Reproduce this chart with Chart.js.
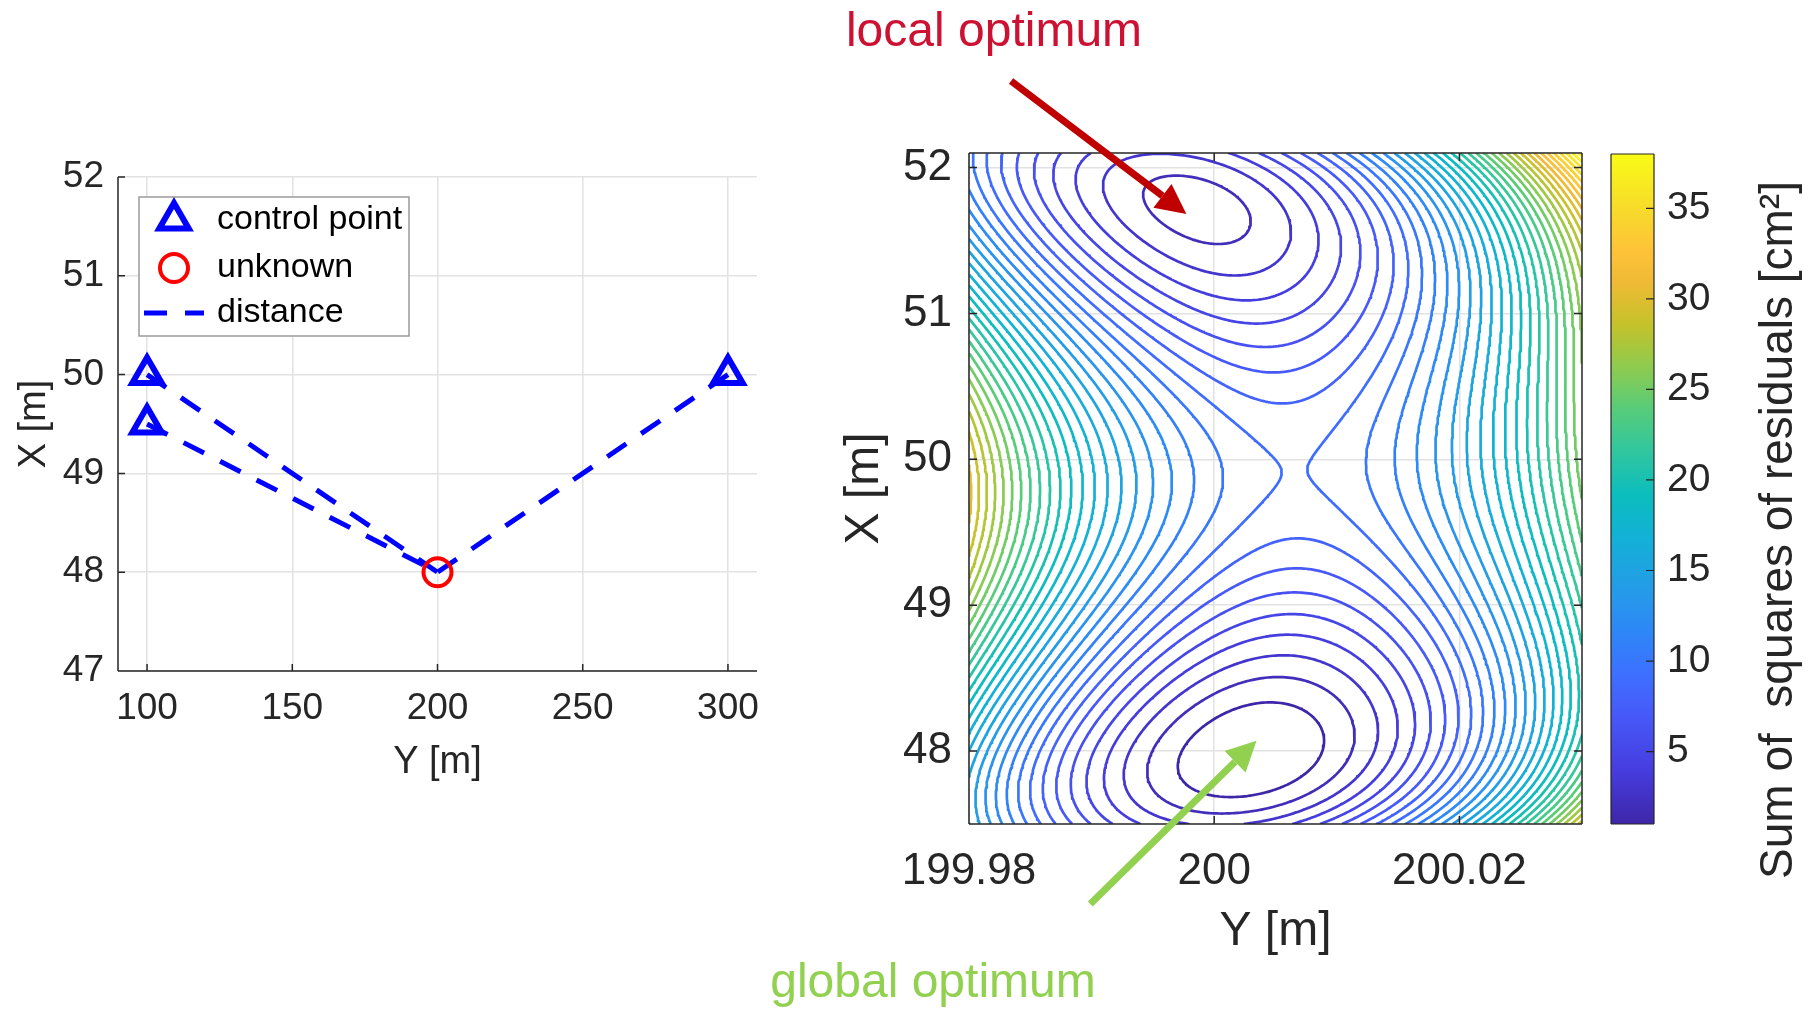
<!DOCTYPE html>
<html lang="en">
<head>
<meta charset="UTF-8" />
<title>Distance network: local and global optimum</title>
<script src="https://cdn.jsdelivr.net/npm/chart.js@4.4.1/dist/chart.umd.min.js"></script>
<style>
  html, body { margin: 0; padding: 0; background: #fff; }
  body { width: 1818px; height: 1011px; position: relative; overflow: hidden; }
  canvas { position: absolute; top: 0; }
  #layoutChart { left: 0; }
  #contourChart { left: 760px; }
  #barChart { left: 1600px; }
</style>
</head>
<body>
<canvas id="layoutChart" width="800" height="1011"></canvas>
<canvas id="contourChart" width="850" height="1011"></canvas>
<canvas id="barChart" width="218" height="1011"></canvas>

<script>
  // Y = easting (horizontal), X = northing (vertical), metres
  const controlY = [100, 100, 300];
  const controlX = [50, 49.5, 50];
  const unknownY = [200];
  const unknownX = [48];
  const observedDist = [100.022692, 100.015298, 100.017467];

  const contourLevels = [1, 2, 3, 4, 5, 6, 7, 8, 9, 10, 11, 12, 13, 14, 15, 16, 17, 18, 19,
    20, 21, 22, 23, 24, 25, 26, 27, 28, 29, 30, 31, 32, 33, 34, 35, 36, 37, 38];

  const layoutYTicks = [100, 150, 200, 250, 300];
  const layoutXTicks = [47, 48, 49, 50, 51, 52];
  const mapYTicks = [199.98, 200, 200.02];
  const mapXTicks = [48, 49, 50, 51, 52];
  const colorbarTicks = [5, 10, 15, 20, 25, 30, 35];

  const mapYRange = [199.98, 200.03];
  const mapXRange = [47.5, 52.1];
  const colorMin = 1, colorMax = 38;

  const FONT = '"Liberation Sans", Arial, Helvetica, sans-serif';
  const INK = '#262626';
  Chart.defaults.font.family = FONT;
  Chart.defaults.color = INK;

  // parula colormap
  const parulaStops = [
    [0.000, [62, 38, 168]], [0.079, [70, 60, 222]], [0.159, [71, 88, 248]],
    [0.222, [62, 111, 255]], [0.286, [46, 135, 247]], [0.349, [37, 155, 232]],
    [0.429, [18, 177, 214]], [0.492, [11, 189, 189]], [0.556, [49, 198, 159]],
    [0.619, [87, 204, 122]], [0.683, [143, 203, 78]], [0.746, [197, 194, 42]],
    [0.810, [240, 186, 54]], [0.857, [254, 195, 56]], [0.921, [247, 220, 42]],
    [1.000, [249, 251, 21]]
  ];
  function parula(t) {
    t = Math.max(0, Math.min(1, t));
    for (let i = 1; i < parulaStops.length; i++) {
      const [t1, c1] = parulaStops[i];
      if (t <= t1) {
        const [t0, c0] = parulaStops[i - 1];
        const f = (t - t0) / (t1 - t0);
        const c = c0.map((v, k) => Math.round(v + (c1[k] - v) * f));
        return `rgb(${c[0]},${c[1]},${c[2]})`;
      }
    }
    return 'rgb(249,251,21)';
  }

  // sum of squared distance residuals in cm^2
  function sumSquares(y, x) {
    let s = 0;
    for (let k = 0; k < controlY.length; k++) {
      const r = (Math.hypot(y - controlY[k], x - controlX[k]) - observedDist[k]) * 100;
      s += r * r;
    }
    return s;
  }

  const NODES = 241;
  const gridY = [], gridX = [];
  for (let i = 0; i < NODES; i++) {
    gridY.push(mapYRange[0] + (mapYRange[1] - mapYRange[0]) * i / (NODES - 1));
    gridX.push(mapXRange[0] + (mapXRange[1] - mapXRange[0]) * i / (NODES - 1));
  }
  const field = gridX.map(x => gridY.map(y => sumSquares(y, x)));

  // marching squares, segments chained into polylines
  function tracePaths(level) {
    const pos = new Map(), adj = new Map();
    const add = (k, px, py) => {
      if (!pos.has(k)) { pos.set(k, { x: px, y: py }); adj.set(k, []); }
      return k;
    };
    const link = (a, b) => { adj.get(a).push(b); adj.get(b).push(a); };
    const lerp = (a, b, za, zb) => a + (b - a) * (level - za) / (zb - za);
    for (let j = 0; j < gridX.length - 1; j++) {
      for (let i = 0; i < gridY.length - 1; i++) {
        const z0 = field[j][i], z1 = field[j][i + 1], z2 = field[j + 1][i + 1], z3 = field[j + 1][i];
        const s0 = z0 < level, s1 = z1 < level, s2 = z2 < level, s3 = z3 < level;
        const e = [];
        if (s0 !== s1) e.push(add('h' + j + '_' + i, lerp(gridY[i], gridY[i + 1], z0, z1), gridX[j]));
        if (s1 !== s2) e.push(add('v' + j + '_' + (i + 1), gridY[i + 1], lerp(gridX[j], gridX[j + 1], z1, z2)));
        if (s3 !== s2) e.push(add('h' + (j + 1) + '_' + i, lerp(gridY[i], gridY[i + 1], z3, z2), gridX[j + 1]));
        if (s0 !== s3) e.push(add('v' + j + '_' + i, gridY[i], lerp(gridX[j], gridX[j + 1], z0, z3)));
        if (e.length === 2) link(e[0], e[1]);
        else if (e.length === 4) {
          const centre = (z0 + z1 + z2 + z3) / 4 < level;
          if (centre === s0) { link(e[0], e[1]); link(e[2], e[3]); }
          else { link(e[0], e[3]); link(e[1], e[2]); }
        }
      }
    }
    const seen = new Set(), paths = [];
    const walk = start => {
      const path = [pos.get(start)];
      seen.add(start);
      let cur = start;
      for (;;) {
        const next = adj.get(cur).find(k => !seen.has(k));
        if (next === undefined) {
          if (path.length > 2 && adj.get(cur).includes(start)) path.push(pos.get(start));
          return path;
        }
        seen.add(next);
        path.push(pos.get(next));
        cur = next;
      }
    };
    for (const [k, n] of adj) if (n.length === 1 && !seen.has(k)) paths.push(walk(k));
    for (const k of adj.keys()) if (!seen.has(k)) paths.push(walk(k));
    return paths;
  }

  const contourSets = contourLevels.map(level => {
    const pts = [];
    tracePaths(level).forEach(p => {
      for (const q of p) pts.push(q);
      pts.push({ x: p[p.length - 1].x, y: null });
    });
    return {
      label: 'SSR ' + level,
      data: pts,
      showLine: true,
      spanGaps: false,
      pointRadius: 0,
      borderWidth: 2.7,
      borderJoinStyle: 'round',
      borderColor: parula((level - colorMin) / (colorMax - colorMin))
    };
  });

  // frame lines and inward tick marks
  const frameTicks = {
    id: 'frameTicks',
    afterDraw(chart, args, o) {
      const { ctx, chartArea: a, scales } = chart;
      const len = o.len || 8;
      ctx.save();
      ctx.strokeStyle = INK;
      ctx.lineWidth = o.width || 1.5;
      ctx.beginPath();
      (o.edges || []).forEach(side => {
        if (side === 'left') { ctx.moveTo(a.left, a.top); ctx.lineTo(a.left, a.bottom); }
        if (side === 'right') { ctx.moveTo(a.right, a.top); ctx.lineTo(a.right, a.bottom); }
        if (side === 'top') { ctx.moveTo(a.left, a.top); ctx.lineTo(a.right, a.top); }
        if (side === 'bottom') { ctx.moveTo(a.left, a.bottom); ctx.lineTo(a.right, a.bottom); }
      });
      (o.sides || []).forEach(side => {
        const sc = (side === 'left' || side === 'right') ? scales.y : scales.x;
        sc.ticks.forEach(t => {
          const p = sc.getPixelForValue(t.value);
          if (side === 'left') { ctx.moveTo(a.left, p); ctx.lineTo(a.left + len, p); }
          if (side === 'right') { ctx.moveTo(a.right, p); ctx.lineTo(a.right - len, p); }
          if (side === 'bottom') { ctx.moveTo(p, a.bottom); ctx.lineTo(p, a.bottom - len); }
          if (side === 'top') { ctx.moveTo(p, a.top); ctx.lineTo(p, a.top + len); }
        });
      });
      ctx.stroke();
      ctx.restore();
    }
  };

  // legend box drawn inside the plot area
  const boxLegend = {
    id: 'boxLegend',
    afterDraw(chart, args, o) {
      const { ctx, chartArea: a } = chart;
      const x0 = a.left + o.dx, y0 = a.top + o.dy;
      ctx.save();
      ctx.fillStyle = '#fff';
      ctx.fillRect(x0, y0, o.w, o.h);
      ctx.strokeStyle = '#9a9a9a';
      ctx.lineWidth = 1.5;
      ctx.strokeRect(x0, y0, o.w, o.h);
      ctx.font = o.size + 'px ' + FONT;
      ctx.textBaseline = 'middle';
      chart.data.datasets.forEach((ds, i) => {
        const cy = y0 + o.rows[i], cx = x0 + o.markX;
        ctx.strokeStyle = ds.borderColor;
        ctx.beginPath();
        if (ds.showLine) {
          ctx.lineWidth = ds.borderWidth;
          ctx.setLineDash(ds.borderDash);
          ctx.moveTo(x0 + 5, cy);
          ctx.lineTo(x0 + 65, cy);
        } else if (ds.pointStyle === 'triangle') {
          ctx.lineWidth = ds.pointBorderWidth;
          const r = ds.pointRadius;
          for (let k = 0; k < 3; k++) {
            const ang = k * 2 * Math.PI / 3;
            const px = cx + Math.sin(ang) * r, py = cy - Math.cos(ang) * r;
            k === 0 ? ctx.moveTo(px, py) : ctx.lineTo(px, py);
          }
          ctx.closePath();
        } else {
          ctx.lineWidth = ds.pointBorderWidth;
          ctx.arc(cx, cy, ds.pointRadius, 0, Math.PI * 2);
        }
        ctx.stroke();
        ctx.setLineDash([]);
        ctx.fillStyle = '#000';
        ctx.fillText(ds.label, x0 + o.textX, cy);
      });
      ctx.restore();
    }
  };

  // arrows and labels marking the two optima
  const callouts = [
    { text: 'local optimum', color: '#cc1133', arrow: '#c00000',
      textAt: [199.98204, 52.8335], from: [199.98343, 52.594], to: [199.99773, 51.682] },
    { text: 'global optimum', color: '#92d050', arrow: '#92d050',
      textAt: [199.97706, 46.314], from: [199.98989, 46.952], to: [200.00345, 48.071] }
  ];
  const calloutPlugin = {
    id: 'callouts',
    afterDraw(chart, args, o) {
      const { ctx, scales: { x, y } } = chart;
      ctx.save();
      callouts.forEach(c => {
        const x0 = x.getPixelForValue(c.from[0]), y0 = y.getPixelForValue(c.from[1]);
        const x1 = x.getPixelForValue(c.to[0]), y1 = y.getPixelForValue(c.to[1]);
        const ang = Math.atan2(y1 - y0, x1 - x0);
        const bx = x1 - o.headLen * Math.cos(ang), by = y1 - o.headLen * Math.sin(ang);
        ctx.strokeStyle = c.arrow;
        ctx.fillStyle = c.arrow;
        ctx.lineWidth = o.width;
        ctx.beginPath();
        ctx.moveTo(x0, y0);
        ctx.lineTo(bx, by);
        ctx.stroke();
        ctx.beginPath();
        ctx.moveTo(x1, y1);
        ctx.lineTo(bx + o.headW / 2 * Math.sin(ang), by - o.headW / 2 * Math.cos(ang));
        ctx.lineTo(bx - o.headW / 2 * Math.sin(ang), by + o.headW / 2 * Math.cos(ang));
        ctx.closePath();
        ctx.fill();
        ctx.font = o.size + 'px ' + FONT;
        ctx.fillStyle = c.color;
        ctx.textAlign = 'center';
        ctx.textBaseline = 'alphabetic';
        ctx.fillText(c.text, x.getPixelForValue(c.textAt[0]), y.getPixelForValue(c.textAt[1]));
      });
      ctx.restore();
    }
  };

  const colorbarTitle = {
    id: 'colorbarTitle',
    afterDraw(chart, args, o) {
      const ctx = chart.ctx;
      ctx.save();
      ctx.translate(o.x, o.y);
      ctx.rotate(-Math.PI / 2);
      ctx.font = o.size + 'px ' + FONT;
      ctx.fillStyle = INK;
      ctx.textAlign = 'center';
      ctx.textBaseline = 'middle';
      ctx.fillText(o.text, 0, 0);
      ctx.restore();
    }
  };

  const gridStyle = { color: '#e2e2e2', lineWidth: 1.5, drawTicks: false };
  const fixedTicks = list => scale => { scale.ticks = list.map(v => ({ value: v })); };

  // left: network layout
  const distancePts = [];
  controlY.forEach((y, k) => {
    distancePts.push({ x: y, y: controlX[k] }, { x: unknownY[0], y: unknownX[0] }, { x: unknownY[0], y: null });
  });

  new Chart(document.getElementById('layoutChart'), {
    type: 'scatter',
    data: {
      datasets: [
        { label: 'control point', data: controlY.map((y, k) => ({ x: y, y: controlX[k] })),
          pointStyle: 'triangle', pointRadius: 17, pointBorderWidth: 6,
          borderColor: '#0000ff', pointBorderColor: '#0000ff', pointBackgroundColor: 'rgba(0,0,0,0)' },
        { label: 'unknown', data: unknownY.map((y, k) => ({ x: y, y: unknownX[k] })),
          pointStyle: 'circle', pointRadius: 14, pointBorderWidth: 4,
          borderColor: '#ff0000', pointBorderColor: '#ff0000', pointBackgroundColor: 'rgba(0,0,0,0)' },
        { label: 'distance', data: distancePts, showLine: true, spanGaps: false, pointRadius: 0,
          borderColor: '#0000ff', borderWidth: 5, borderDash: [23, 18] }
      ]
    },
    options: {
      responsive: false, animation: false, events: [],
      layout: { padding: { left: 0, top: 177, right: 43, bottom: 220 } },
      plugins: {
        legend: { display: false }, tooltip: { enabled: false },
        frameTicks: { edges: ['left', 'bottom'], sides: ['left', 'bottom'], len: 7 },
        boxLegend: { dx: 21, dy: 20, w: 270, h: 139, rows: [23, 71, 116], markX: 35, textX: 78, size: 34 }
      },
      scales: {
        x: {
          type: 'linear', min: 90, max: 310,
          afterBuildTicks: fixedTicks(layoutYTicks),
          afterFit: s => { s.height = 120; },
          grid: gridStyle, border: { display: false },
          ticks: { padding: 16, font: { size: 37 }, callback: v => String(v) },
          title: { display: true, text: 'Y [m]', font: { size: 38 }, padding: { top: 0, bottom: 6 } }
        },
        y: {
          type: 'linear', min: 47, max: 52,
          afterBuildTicks: fixedTicks(layoutXTicks),
          afterFit: s => { s.width = 118; },
          grid: gridStyle, border: { display: false },
          ticks: { padding: 14, font: { size: 37 }, callback: v => String(v) },
          title: { display: true, text: 'X [m]', font: { size: 38 }, padding: { top: 12, bottom: 0 } }
        }
      }
    },
    plugins: [frameTicks, boxLegend]
  });

  // right: contour map of the residual sum
  new Chart(document.getElementById('contourChart'), {
    type: 'scatter',
    data: { datasets: contourSets },
    options: {
      responsive: false, animation: false, events: [],
      layout: { padding: { left: 0, top: 153, right: 28, bottom: 27 } },
      plugins: {
        legend: { display: false }, tooltip: { enabled: false },
        frameTicks: { edges: ['left', 'right', 'top', 'bottom'], sides: ['left', 'right', 'top', 'bottom'], len: 8 },
        callouts: { width: 7, headLen: 30, headW: 30, size: 48 }
      },
      scales: {
        x: {
          type: 'linear', min: mapYRange[0], max: mapYRange[1],
          afterBuildTicks: fixedTicks(mapYTicks),
          afterFit: s => { s.height = 160; },
          grid: gridStyle, border: { display: false },
          ticks: { padding: 21, font: { size: 44 }, callback: v => String(v) },
          title: { display: true, text: 'Y [m]', font: { size: 48 }, padding: { top: 0, bottom: 23 } }
        },
        y: {
          type: 'linear', min: mapXRange[0], max: mapXRange[1],
          afterBuildTicks: fixedTicks(mapXTicks),
          afterFit: s => { s.width = 209; },
          grid: gridStyle, border: { display: false },
          ticks: { padding: 17, font: { size: 44 }, callback: v => String(v) },
          title: { display: true, text: 'X [m]', font: { size: 48 }, padding: { top: 76, bottom: 0 } }
        }
      }
    },
    plugins: [frameTicks, calloutPlugin]
  });

  // colorbar
  const parulaGradient = c => {
    const chart = c.chart, ys = chart.scales.y;
    if (!chart.chartArea || !ys) return parula(0.5);
    const g = chart.ctx.createLinearGradient(0, ys.getPixelForValue(colorMin), 0, ys.getPixelForValue(colorMax));
    parulaStops.forEach(([t]) => g.addColorStop(t, parula(t)));
    return g;
  };

  new Chart(document.getElementById('barChart'), {
    type: 'bar',
    data: {
      labels: [''],
      datasets: [{ data: [[colorMin, colorMax]], backgroundColor: parulaGradient, borderWidth: 0,
        barPercentage: 1, categoryPercentage: 1 }]
    },
    options: {
      responsive: false, animation: false, events: [],
      layout: { padding: { left: 11, top: 154, right: 0, bottom: 187 } },
      plugins: {
        legend: { display: false }, tooltip: { enabled: false },
        frameTicks: { edges: ['left', 'right', 'top', 'bottom'], sides: ['right'], len: 8, width: 1.2 },
        colorbarTitle: { text: 'Sum of  squares of residuals [cm²]', x: 179, y: 530, size: 46 }
      },
      scales: {
        x: { display: false },
        y: {
          position: 'right', min: colorMin, max: colorMax,
          afterBuildTicks: fixedTicks(colorbarTicks),
          afterFit: s => { s.width = 164; },
          grid: { display: false, drawTicks: false }, border: { display: false },
          ticks: { padding: 13, font: { size: 39 }, callback: v => String(v) }
        }
      }
    },
    plugins: [frameTicks, colorbarTitle]
  });
</script>
</body>
</html>
